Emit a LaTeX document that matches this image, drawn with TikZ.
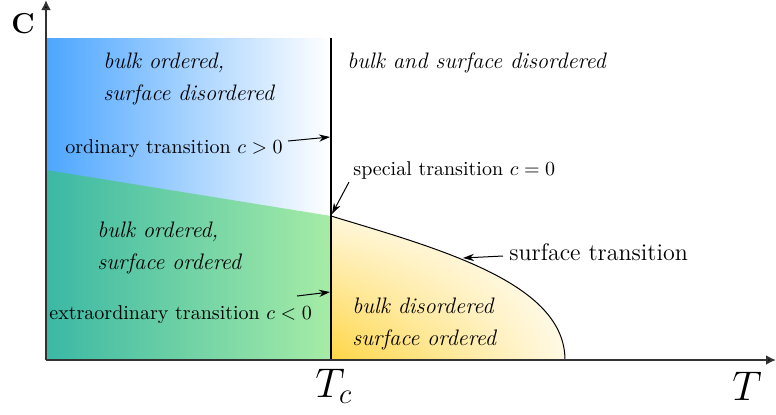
\documentclass[tikz,border=0pt]{standalone}
\usetikzlibrary{arrows.meta,shadings}
\definecolor{bblue}{RGB}{77,166,255}
\definecolor{gteal}{RGB}{59,184,165}
\definecolor{glight}{RGB}{166,236,166}
\definecolor{yel}{RGB}{255,214,70}
\begin{document}
\begin{tikzpicture}[x=0.5pt,y=-0.5pt,
  lbl/.style={inner sep=0pt, anchor=base west, font=\normalsize},
  itl/.style={inner sep=0pt, anchor=north west, align=left, font=\fontsize{11.2}{16}\selectfont\itshape},
  conn/.style={-{Stealth[length=5.5pt,width=3.6pt]}, line width=0.5pt},
  axisline/.style={line width=1pt, draw=black!80, -{Latex[length=5pt,width=5pt,fill=black]}}]
\useasboundingbox (0,0) rectangle (776,414);
% regions
\coordinate (o) at (46,360);
\coordinate (tc) at (331,360);
\coordinate (sp) at (331,216);
\coordinate (ltop) at (46,38);
\coordinate (lmid) at (46,170);
\coordinate (send) at (565,360);
\shade[left color=bblue, right color=white] (ltop) rectangle (sp);
\shade[left color=gteal, right color=glight] (lmid) -- (sp) -- (tc) -- (o) -- cycle;
\shade[lower left=yel, upper left=white!80!yel, lower right=white!85!yel, upper right=white]
  (sp) .. controls (440,249) and (565,283) .. (send) -- (tc) -- cycle;
\draw[line width=0.5pt] (sp) .. controls (440,249) and (565,283) .. (send);
\draw[line width=0.6pt] (331,38) -- (tc);
% axes
\coordinate (xend) at (776,360);
\coordinate (yend) at (46,0);
\draw[axisline] (o) -- (xend);
\draw[axisline] (o) -- (yend);
% labels
\node[inner sep=0pt, anchor=base west, font=\Large\bfseries] (clab) at (11,33) {C};
\node[inner sep=0pt, anchor=base west, font=\huge] (tclab) at (315,397) {$T_c$};
\node[inner sep=0pt, anchor=base west, font=\huge] (tlab) at (732,400) {$T$};
\node[itl] (r1) at (103,53) {bulk ordered,\\surface disordered};
\node[itl] (r2) at (347,52) {bulk and surface disordered};
\node[itl] (r3) at (97,222) {bulk ordered,\\surface ordered};
\node[itl] (r4) at (352,298) {bulk disordered\\surface ordered};
\node[lbl] (ord) at (65,153) {ordinary transition $c>0$};
\node[lbl] (spec) at (353,175) {special transition $c=0$};
\node[lbl, font=\large] (surf) at (509,260) {surface transition};
\node[lbl] (extra) at (49,319) {extraordinary transition $c<0$};
% connectors
\coordinate (ordS) at (288,141); \coordinate (ordE) at (330,137);
\coordinate (specS) at (349,182); \coordinate (specE) at (332,214);
\coordinate (surfS) at (503,256); \coordinate (surfE) at (463,258);
\coordinate (extraS) at (297,296); \coordinate (extraE) at (330,292);
\draw[conn] (ordS) -- (ordE);
\draw[conn] (specS) -- (specE);
\draw[conn] (surfS) -- (surfE);
\draw[conn] (extraS) -- (extraE);
\end{tikzpicture}
\end{document}
